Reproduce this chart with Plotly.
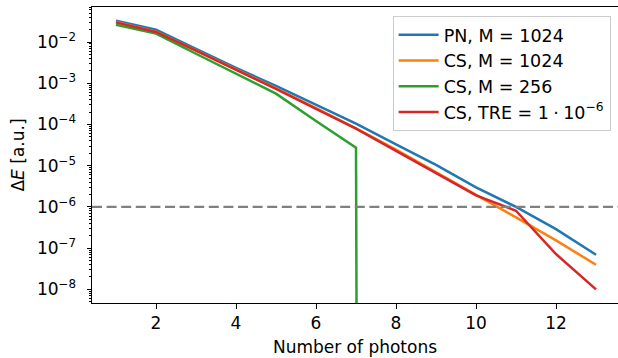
import plotly.graph_objects as go

# ---- data ----
photons = [1, 2, 3, 4, 5, 6, 7, 8, 9, 10, 11, 12, 13]
pn_1024 = [3.3e-2, 2.0e-2, 6.8e-3, 2.35e-3, 8.6e-4, 3.0e-4, 1.05e-4, 3.3e-5, 1.05e-5, 3.0e-6, 1.0e-6, 2.9e-7, 6.9e-8]
cs_1024 = [3.05e-2, 1.78e-2, 6.3e-3, 2.2e-3, 7.5e-4, 2.5e-4, 8.1e-5, 2.45e-5, 7.0e-6, 2.0e-6, 5.6e-7, 1.55e-7, 3.95e-8]
photons_256 = [1, 2, 3, 4, 5, 6, 7, 8]
cs_256 = [2.62e-2, 1.61e-2, 5.2e-3, 1.7e-3, 5.6e-4, 1.22e-4, 2.75e-5, 1e-300]  # last value: zero error (clipped on log axis)
cs_tre = [3.0e-2, 1.76e-2, 6.2e-3, 2.15e-3, 7.3e-4, 2.4e-4, 7.9e-5, 2.3e-5, 6.5e-6, 1.9e-6, 8.1e-7, 7.2e-8, 1.0e-8]
threshold = 1e-6

series_names = ["PN, M = 1024", "CS, M = 1024", "CS, M = 256",
                "CS, TRE = 1\u2005·\u200510<sup>−6</sup>"]
series_x = [photons, photons, photons_256, photons]
series_y = [pn_1024, cs_1024, cs_256, cs_tre]
colors = ["#1f77b4", "#ff7f0e", "#2ca02c", "#d62728"]

x_ticks = [2, 4, 6, 8, 10, 12]
y_exponents = [-8, -7, -6, -5, -4, -3, -2]

FONT = "DejaVu Sans"
FS = 17

fig = go.Figure()
for i, (name, xs, ys, c) in enumerate(zip(series_names, series_x, series_y, colors)):
    fig.add_trace(go.Scatter(x=xs, y=ys, mode="lines", name=name, legendgroup=f"g{i}",
                             line=dict(color=c, width=2.5)))

fig.add_shape(type="line", xref="paper", x0=0, x1=1, yref="y", y0=threshold, y1=threshold,
              line=dict(color="#808080", width=2.3, dash="10px,4.6px"), layer="above")

minor_vals = [m * 10.0 ** e for e in range(-9, -1) for m in range(2, 10)]

fig.update_layout(
    width=618, height=358,
    margin=dict(l=92, r=0, t=7, b=55),
    paper_bgcolor="white", plot_bgcolor="white",
    font=dict(family=FONT, size=FS, color="black"),
    showlegend=True,
    legend=dict(x=0.986, y=0.97, xanchor="right", yanchor="top",
                bgcolor="rgba(255,255,255,0.8)", bordercolor="#cccccc", borderwidth=1,
                font=dict(family=FONT, size=17.5), itemwidth=40,
                traceorder="grouped", tracegroupgap=0),
    xaxis=dict(range=[0.4, 13.55], tickmode="array", tickvals=x_ticks,
               ticks="outside", ticklen=4.5, tickwidth=1, tickcolor="black",
               showline=True, linecolor="black", linewidth=1, mirror=True,
               showgrid=False, zeroline=False, automargin=False,
               title=dict(text="Number of photons", standoff=9, font=dict(size=FS))),
    yaxis=dict(type="log", range=[-8.33, -1.15], tickmode="array",
               tickvals=[10.0 ** e for e in y_exponents],
               ticktext=[f"10<sup>−{-e}</sup>" for e in y_exponents],
               ticks="outside", ticklen=4.5, tickwidth=1, tickcolor="black",
               ticklabelstandoff=7,
               minor=dict(tickmode="array", tickvals=minor_vals, ticks="outside",
                          ticklen=2.5, tickwidth=0.8, tickcolor="black", showgrid=False),
               showline=True, linecolor="black", linewidth=1, mirror=False,
               showgrid=False, zeroline=False, automargin=False,
               title=dict(text="Δ<i>E</i> [a.u.]", standoff=7, font=dict(size=FS))),
)

fig.write_html("out.html", config={"displayModeBar": False},
               post_script="document.body.style.margin='0';")
